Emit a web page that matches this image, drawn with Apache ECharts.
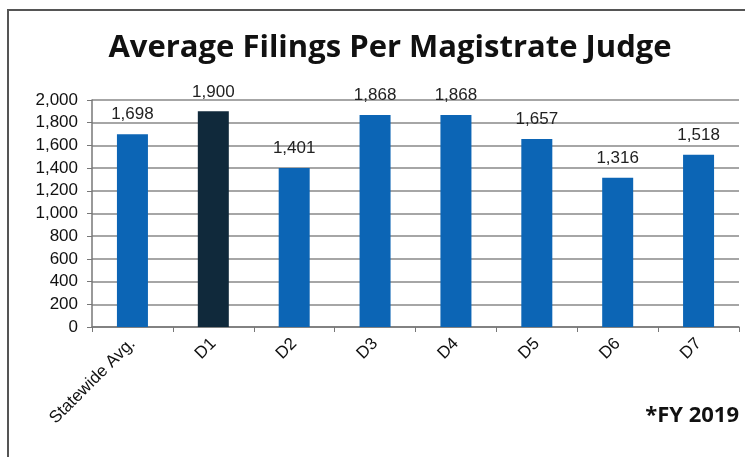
<!DOCTYPE html>
<html><head><meta charset="utf-8">
<script src="https://cdn.jsdelivr.net/npm/echarts@6/dist/echarts.min.js"></script>
<style>html,body{margin:0;padding:0;background:#fff}#c{width:745px;height:457px}</style>
</head><body><div id="c"></div>
<script>
const categories = ["Statewide Avg.", "D1", "D2", "D3", "D4", "D5", "D6", "D7"];
const values = [1698, 1900, 1401, 1868, 1868, 1657, 1316, 1518];
const barColors = ["#0c65b5", "#10293b", "#0c65b5", "#0c65b5", "#0c65b5", "#0c65b5", "#0c65b5", "#0c65b5"];
const yTicks = [0, 200, 400, 600, 800, 1000, 1200, 1400, 1600, 1800, 2000];

const chart = echarts.init(document.getElementById('c'));
chart.setOption({
  animation: false,
  title: {
    text: 'Average Filings Per Magistrate Judge',
    left: 385, top: 28, textAlign: 'center',
    textStyle: { fontFamily: 'Open Sans', fontWeight: 'bold', fontSize: 31, color: '#111', letterSpacing: -0.5 }
  },
  graphic: [
    { type: 'rect', shape: { x: 8, y: 10, width: 760, height: 470 }, style: { fill: 'none', stroke: '#555', lineWidth: 2 } },
    { type: 'text', right: 6, top: 405, style: { text: '*FY 2019', font: 'bold 22px "Open Sans"', fill: '#111' } }
  ],
  grid: { left: 92, right: 6, top: 100, bottom: 130 },
  xAxis: {
    type: 'category', data: categories,
    axisLine: { lineStyle: { color: '#777', width: 1.5 } },
    axisTick: { show: true, lineStyle: { color: '#777' } },
    axisLabel: { rotate: 45, color: '#111', fontFamily: 'Liberation Sans', fontSize: 17, margin: 14 }
  },
  yAxis: {
    type: 'value', min: 0, max: 2000, interval: 200,
    axisLine: { show: true, lineStyle: { color: '#777', width: 1.5 } },
    axisTick: { show: true, lineStyle: { color: '#777' } },
    splitLine: { lineStyle: { color: '#888', width: 1.5 } },
    axisLabel: {
      color: '#111', fontFamily: 'Liberation Sans', fontSize: 17, margin: 14,
      formatter: v => yTicks.includes(v) ? v.toLocaleString('en-US') : ''
    }
  },
  series: [{
    type: 'bar', barWidth: 31,
    data: values.map((v, i) => ({ value: v, itemStyle: { color: barColors[i] } })),
    label: {
      show: true, position: 'top', distance: 11, color: '#222',
      fontFamily: 'Liberation Sans', fontSize: 17,
      formatter: p => p.value.toLocaleString('en-US')
    }
  }]
});
</script></body></html>
